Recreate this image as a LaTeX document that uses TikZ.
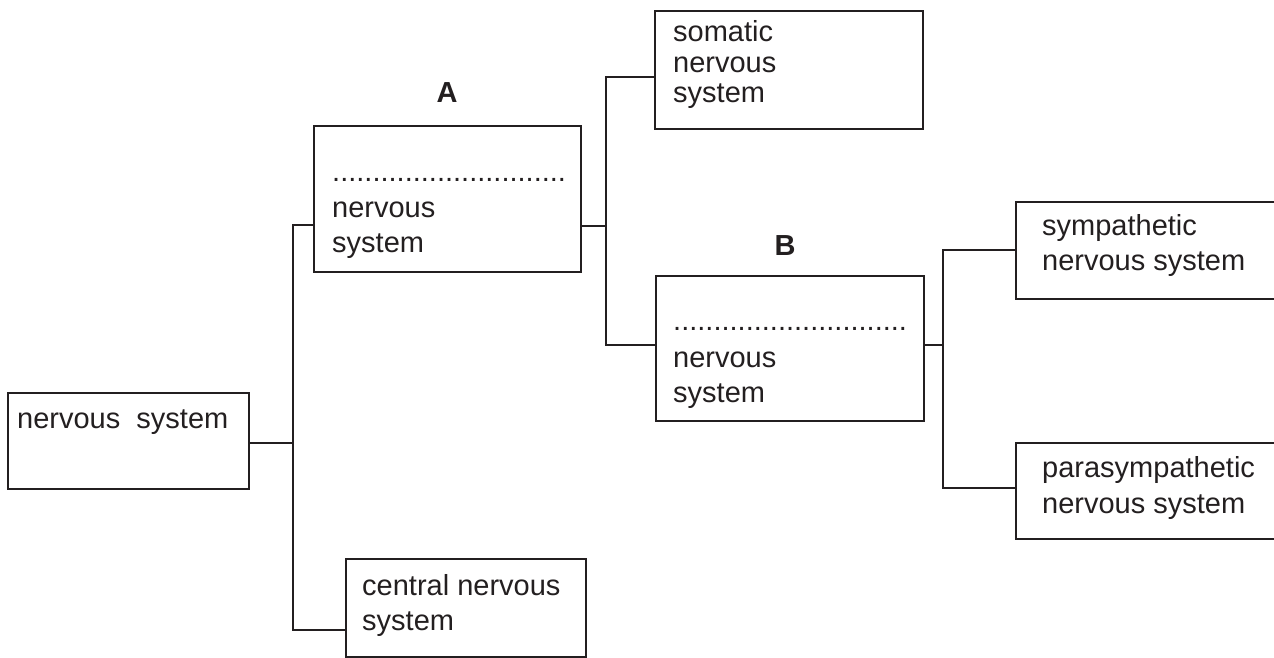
\documentclass[tikz,border=0pt]{standalone}
\usepackage{fontspec}
\setmainfont{Liberation Sans}
\definecolor{ink}{HTML}{231F20}
\begin{document}
\begin{tikzpicture}[x=1pt,y=-1pt,
  box/.style={draw=ink,line width=2pt,inner sep=0pt,anchor=north west},
  txt/.style={anchor=base west,inner sep=0pt,font=\fontsize{29}{35}\selectfont,text=ink},
  lbl/.style={anchor=base,inner sep=0pt,font=\fontsize{29}{35}\selectfont\bfseries,text=ink},
  link/.style={draw=ink,line width=2pt}]
\useasboundingbox (0,0) rectangle (1274,658);
\clip (0,0) rectangle (1274,658);
% boxes
\node[box,minimum width=241pt,minimum height=96pt] (ns) at (7,392) {};
\node[box,minimum width=267pt,minimum height=146pt] (A) at (313,125) {};
\node[box,minimum width=268pt,minimum height=118pt] (som) at (654,10) {};
\node[box,minimum width=268pt,minimum height=145pt] (B) at (655,275) {};
\node[box,minimum width=280pt,minimum height=97pt] (sym) at (1015,201) {};
\node[box,minimum width=280pt,minimum height=96pt] (par) at (1015,442) {};
\node[box,minimum width=240pt,minimum height=98pt] (cns) at (345,558) {};
% texts
\node[txt] (tns) at (17,428) {nervous\ \ system};
\node[txt] (tA1) at (332,181) {.............................};
\node[txt] (tA2) at (332,217) {nervous};
\node[txt] (tA3) at (332,252) {system};
\node[txt] (ts1) at (673,42) {somatic};
\node[txt] (ts2) at (673,73) {nervous};
\node[txt] (ts3) at (673,103) {system};
\node[txt] (tB1) at (673,330) {.............................};
\node[txt] (tB2) at (673,367) {nervous};
\node[txt] (tB3) at (673,402) {system};
\node[txt] (ty1) at (1042,235) {sympathetic};
\node[txt] (ty2) at (1042,270) {nervous system};
\node[txt] (tp1) at (1042,477) {parasympathetic};
\node[txt] (tp2) at (1042,513) {nervous system};
\node[txt] (tc1) at (362,595) {central nervous};
\node[txt] (tc2) at (362,630) {system};
\node[lbl] (la) at (447,103) {A};
\node[lbl] (lb) at (785,255) {B};
% connectors
\coordinate (tA) at (293,225);
\coordinate (tC) at (293,630);
\coordinate (lns) at (293,443);
\draw[link] (A.west |- tA) -- (tA) -- (tC) -- (cns.west |- tC);
\draw[link] (ns.east |- lns) -- (lns);
\coordinate (tS) at (606,77);
\coordinate (tBB) at (606,345);
\coordinate (lA) at (606,226);
\draw[link] (som.west |- tS) -- (tS) -- (tBB) -- (B.west |- tBB);
\draw[link] (A.east |- lA) -- (lA);
\coordinate (tY) at (943,250);
\coordinate (tP) at (943,488);
\coordinate (lB) at (943,345);
\draw[link] (sym.west |- tY) -- (tY) -- (tP) -- (par.west |- tP);
\draw[link] (B.east |- lB) -- (lB);
\end{tikzpicture}
\end{document}
